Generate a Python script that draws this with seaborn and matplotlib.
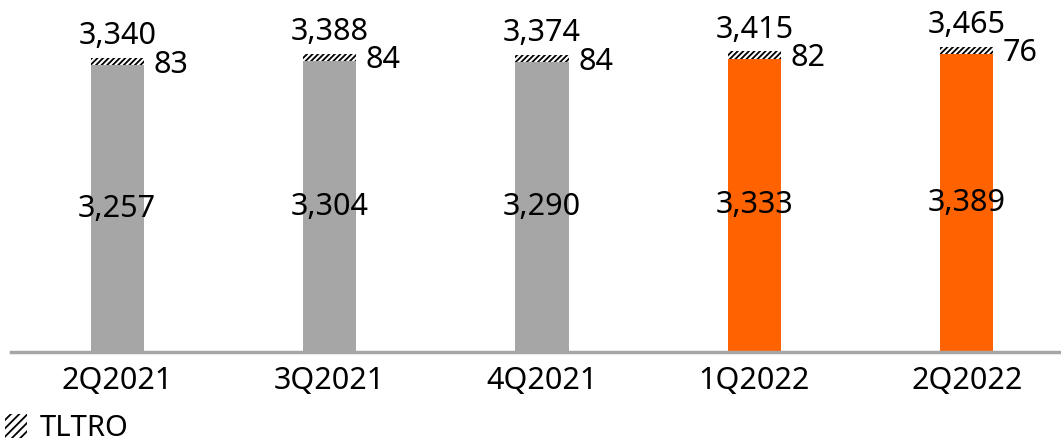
import matplotlib
matplotlib.use('Agg')
import matplotlib.pyplot as plt
import seaborn as sns
import pandas as pd
from matplotlib.patches import Patch

# data
quarters = ['2Q2021', '3Q2021', '4Q2021', '1Q2022', '2Q2022']
base = [3257, 3304, 3290, 3333, 3389]
tltro = [83, 84, 84, 82, 76]
totals = [3340, 3388, 3374, 3415, 3465]

gray = '#a6a6a6'
orange = '#ff6200'
colors = [gray, gray, gray, orange, orange]

sns.set_style('white')
plt.rcParams['font.family'] = ['Noto Sans', 'DejaVu Sans']
plt.rcParams['text.color'] = 'black'
plt.rcParams['xtick.color'] = 'black'
plt.rcParams['hatch.linewidth'] = 1.3
plt.rcParams['hatch.color'] = 'black'

df = pd.DataFrame({'quarter': quarters, 'base': base, 'total': totals})

fig = plt.figure(figsize=(10.61, 4.45), dpi=100)
ax = fig.add_axes([11 / 1061, 93 / 445, 1050 / 1061, 352 / 445])

# hatched totals first, base bars drawn over them
sns.barplot(data=df, x='quarter', y='total', color='white', width=0.25,
            saturation=1, ax=ax)
for p in ax.patches:
    p.set_hatch('//////')
    p.set_edgecolor('black')
    p.set_linewidth(0)
sns.barplot(data=df, x='quarter', y='base', hue='quarter', palette=colors,
            legend=False, width=0.25, saturation=1, edgecolor='none',
            linewidth=0, ax=ax)

ax.set_ylim(0, 4000)
ax.set_xlim(-0.5, 1050 / 212.4 - 0.5)
ax.set_xlabel('')
ax.set_ylabel('')
ax.set_yticks([])
ax.tick_params(axis='x', length=0, pad=10, labelsize=22, labelcolor='black')
for s in ['top', 'right', 'left']:
    ax.spines[s].set_visible(False)
ax.spines['bottom'].set_color(gray)
ax.spines['bottom'].set_linewidth(2.5)

for i in range(len(quarters)):
    ax.annotate(f'{base[i]:,}', (i, base[i] / 2), ha='center', va='center',
                fontsize=22, color='black')
    ax.annotate(f'{totals[i]:,}', (i, totals[i]), xytext=(0, 10),
                textcoords='offset points', ha='center', va='baseline',
                fontsize=22, color='black')
    ax.annotate(f'{tltro[i]}', (i + 0.125, base[i] + tltro[i] / 2),
                xytext=(7, -2), textcoords='offset points', ha='left',
                va='center', fontsize=22, color='black')

handle = Patch(facecolor='white', hatch='////', edgecolor='black',
               linewidth=0)
fig.legend(handles=[handle], labels=['TLTRO'], loc='lower left',
           bbox_to_anchor=(-0.012, -0.035), frameon=False, fontsize=21,
           handlelength=0.75, handleheight=0.85, handletextpad=0.45,
           borderaxespad=0.2, labelcolor='black')

fig.savefig('out.png', dpi=100)
